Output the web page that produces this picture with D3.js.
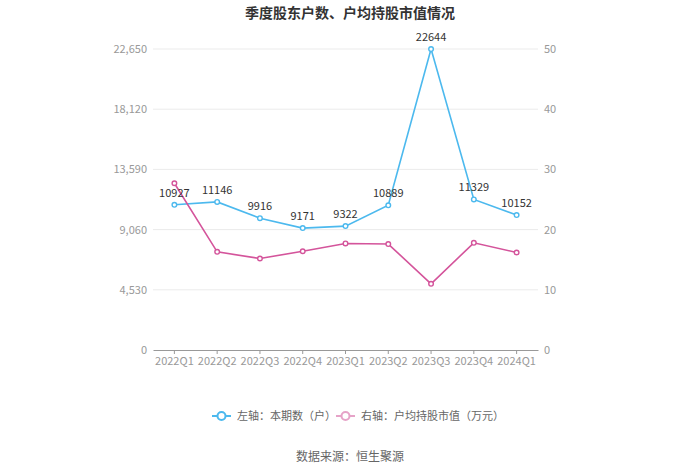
<!DOCTYPE html>
<html><head><meta charset="utf-8">
<script src="https://cdn.jsdelivr.net/npm/d3@7/dist/d3.min.js"></script>
<style>body{margin:0;background:#fff;}text{font-family:"Microsoft YaHei","Noto Sans CJK SC",sans-serif;}</style>
</head><body><svg id="c" width="700" height="474"></svg>
<script>
const categories = ["2022Q1","2022Q2","2022Q3","2022Q4","2023Q1","2023Q2","2023Q3","2023Q4","2024Q1"];
const holders = [10927,11146,9916,9171,9322,10889,22644,11329,10152];
const avgValue = [27.7,16.3,15.2,16.4,17.7,17.6,11.0,17.8,16.2];
const leftTicks = [0,4530,9060,13590,18120,22650];
const rightTicks = [0,10,20,30,40,50];

const svg = d3.select("#c");
const m = {l:153, r:538, t:49, b:350};
const x = d3.scaleBand().domain(categories).range([m.l, m.r]);
const yL = d3.scaleLinear().domain([0,22650]).range([m.b, m.t]);
const yR = d3.scaleLinear().domain([0,50]).range([m.b, m.t]);
const cx = d => x(d) + x.bandwidth()/2;
const blue = "#4cb9ee", pink = "#d4549b";

svg.append("text").attr("x",350).attr("y",18).attr("text-anchor","middle")
  .attr("font-size",14).attr("font-weight","bold").attr("fill","#333").text("季度股东户数、户均持股市值情况");

// grid
svg.append("g").selectAll("line").data(leftTicks.slice(1)).join("line")
  .attr("x1",m.l).attr("x2",m.r).attr("y1",d=>yL(d)).attr("y2",d=>yL(d))
  .attr("stroke","#ebebeb").attr("stroke-width",1);

// left axis
const gl = svg.append("g").attr("transform",`translate(${m.l},0)`)
  .call(d3.axisLeft(yL).tickValues(leftTicks).tickFormat(d3.format(",")).tickSize(0).tickPadding(6));
gl.select(".domain").remove();
gl.selectAll("text").attr("fill","#999").attr("font-size",11).attr("font-family","'Microsoft YaHei','Noto Sans CJK SC',sans-serif");

const gr = svg.append("g").attr("transform",`translate(${m.r},0)`)
  .call(d3.axisRight(yR).tickValues(rightTicks).tickSize(0).tickPadding(6));
gr.select(".domain").remove();
gr.selectAll("text").attr("fill","#999").attr("font-size",11).attr("font-family","'Microsoft YaHei','Noto Sans CJK SC',sans-serif");

const gx = svg.append("g").attr("transform",`translate(0,${m.b})`)
  .call(d3.axisBottom(x).tickSize(4).tickSizeOuter(0).tickPadding(3));
gx.select(".domain").attr("stroke","#999");
gx.selectAll(".tick line").attr("stroke","#999");
gx.selectAll("text").attr("fill","#999").attr("font-size",11).attr("font-family","'Microsoft YaHei','Noto Sans CJK SC',sans-serif");

// lines
const lineL = d3.line().x((d,i)=>cx(categories[i])).y(d=>yL(d));
const lineR = d3.line().x((d,i)=>cx(categories[i])).y(d=>yR(d));
svg.append("path").datum(holders).attr("d",lineL).attr("fill","none").attr("stroke",blue).attr("stroke-width",1.6);
svg.append("path").datum(avgValue).attr("d",lineR).attr("fill","none").attr("stroke",pink).attr("stroke-width",1.6);
svg.append("g").selectAll("circle").data(holders).join("circle")
  .attr("cx",(d,i)=>cx(categories[i])).attr("cy",d=>yL(d)).attr("r",2.3)
  .attr("fill","#fff").attr("stroke",blue).attr("stroke-width",1.4);
svg.append("g").selectAll("circle").data(avgValue).join("circle")
  .attr("cx",(d,i)=>cx(categories[i])).attr("cy",d=>yR(d)).attr("r",2.3)
  .attr("fill","#fff").attr("stroke",pink).attr("stroke-width",1.4);
svg.append("g").selectAll("text").data(holders).join("text")
  .attr("x",(d,i)=>cx(categories[i])).attr("y",d=>yL(d)-8).attr("text-anchor","middle")
  .attr("font-size",11).attr("fill","#333").text(d=>d);

// legend
const lg = svg.append("g");
const items = [{c:blue, t:"左轴：本期数（户）", x:212},{c:"#e6a3c8", t:"右轴：户均持股市值（万元）", x:336}];
items.forEach(it=>{
  lg.append("line").attr("x1",it.x).attr("x2",it.x+19).attr("y1",416).attr("y2",416).attr("stroke",it.c).attr("stroke-width",2);
  lg.append("circle").attr("cx",it.x+9.5).attr("cy",416).attr("r",4).attr("fill","#fff").attr("stroke",it.c).attr("stroke-width",2);
  lg.append("text").attr("x",it.x+25).attr("y",420).attr("font-size",11).attr("fill","#666").text(it.t);
});
svg.append("text").attr("x",350).attr("y",461).attr("text-anchor","middle").attr("font-size",12).attr("fill","#666").text("数据来源：恒生聚源");
</script></body></html>
